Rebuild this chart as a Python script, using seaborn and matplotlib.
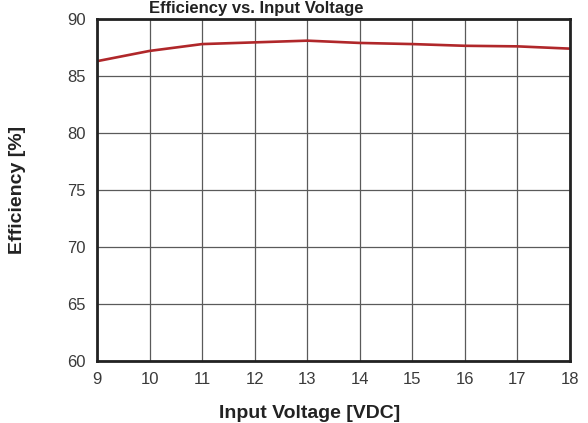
import matplotlib
matplotlib.use("Agg")
import matplotlib.pyplot as plt
import seaborn as sns
import pandas as pd
from matplotlib import font_manager

# Valores
voltaje = [9, 10, 11, 12, 13, 14, 15, 16, 17, 18]
eficiencia = [86.3, 87.2, 87.8, 87.95, 88.1, 87.9, 87.8, 87.65, 87.6, 87.4]

x_ticks = list(range(9, 19))
y_ticks = [60, 65, 70, 75, 80, 85, 90]

df = pd.DataFrame({"voltaje": voltaje, "eficiencia": eficiencia})

sns.set_style("white")
nombres = {f.name for f in font_manager.fontManager.ttflist}
fuente = "Liberation Sans Narrow" if "Liberation Sans Narrow" in nombres else "Liberation Sans"
plt.rcParams["font.family"] = [fuente, "DejaVu Sans"]

fig = plt.figure(figsize=(5.88, 4.23), dpi=100)
ax = fig.add_axes([97 / 588, 1 - 361 / 423, 473 / 588, 342 / 423])

sns.lineplot(data=df, x="voltaje", y="eficiencia", ax=ax, color="#b0272a", linewidth=1.9)

ax.set_xlim(9, 18)
ax.set_ylim(60, 90)
ax.set_xticks(x_ticks)
ax.set_yticks(y_ticks)
ax.grid(True, color="#5a5a5a", linewidth=0.9)
ax.tick_params(axis="both", length=0, labelsize=12, colors="#3a3a3a", pad=8)
for s in ax.spines.values():
    s.set_linewidth(2.0)
    s.set_color("#222222")

ax.set_xlabel("")
ax.set_ylabel("")
fig.text(310 / 588, 1 - 413 / 423, "Input Voltage [VDC]", ha="center", va="center",
         fontsize=14, fontweight="bold", color="#222222")
fig.text(18 / 588, 1 - 190 / 423, "Efficiency [%]", ha="center", va="center",
         rotation=90, fontsize=14, fontweight="bold", color="#222222")
fig.text(256 / 588, 1 - 9 / 423, "Efficiency vs. Input Voltage", ha="center", va="center",
         fontsize=12, fontweight="bold", color="#222222")

fig.savefig("out.png", dpi=100)
